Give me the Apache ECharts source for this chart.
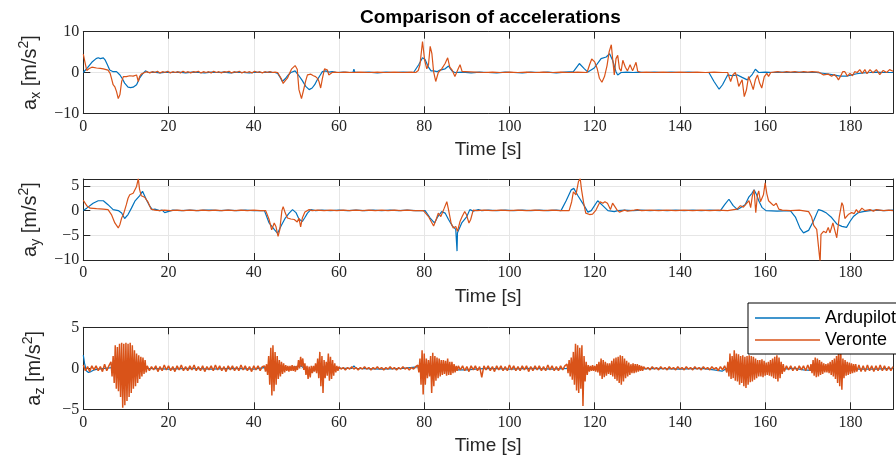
<!DOCTYPE html>
<html><head><meta charset="utf-8">
<script src="https://cdn.jsdelivr.net/npm/echarts@6/dist/echarts.min.js"></script>
<style>html,body{margin:0;padding:0;background:#fff}#c{width:896px;height:457px}</style>
</head><body><div id="c"></div><script>
// ---------- DATA ----------
const xTicks = [0, 20, 40, 60, 80, 100, 120, 140, 160, 180];
const seriesNames = ['Ardupilot', 'Veronte'];
const yLabelSubs = ['x', 'y', 'z'];

const axArdupilot = [[0,0],[0.4,0.3],[1,1.2],[2,2.5],[3,3.4],[3.5,3.6],[4,3.4],[4.7,3.6],[5.1,3.1],[5.6,2.0],[6.2,0.6],[7,0.2],[7.8,0.2],[8.6,-0.6],[9.2,-1.6],[9.7,-2.6],[10.5,-3.6],[11.1,-3.7],[11.7,-3.6],[12.5,-3.0],[13.2,-1.4],[14,-0.2],[14.6,0.4],[15.2,0],[16.5,0.1],[18,-0.1],[19.5,0.1],[21,0],[22.5,0.1],[24,-0.1],[25.5,0.1],[27,0],[28.5,-0.1],[30,0.1],[31.5,0],[33,0.1],[34.5,-0.1],[36,0.1],[37.5,0],[39,-0.1],[40.5,0.1],[42,0],[43.5,0.1],[45,0],[45.6,-0.2],[46.2,-1.2],[46.7,-2.2],[47.5,-1.4],[48.1,-0.6],[48.7,0],[49.7,0.4],[50.6,-0.8],[51.4,-2.0],[52.2,-3.4],[53,-4.2],[53.7,-3.8],[54.3,-3.0],[54.9,-1.8],[55.5,-0.8],[56.1,0.2],[56.9,0.4],[57.6,0.1],[58.4,0.2],[59.5,0],[61,0.1],[62.5,0],[63.3,0.1],[63.5,0.8],[63.7,0.1],[65,0],[67,0.1],[69,-0.1],[71,0.1],[73,0],[75,0.1],[77.5,0],[78.7,1.9],[79.6,3.6],[80.2,3.2],[81,1.3],[81.6,0.4],[82.2,0.4],[83,0.2],[83.7,0.6],[84.9,0.9],[85.7,1.6],[86.2,0.8],[86.6,0.3],[87.2,0],[89,0.1],[91,-0.1],[93,0.1],[95,0],[97,-0.1],[99,0.1],[101,0],[103,-0.1],[105,0.1],[107,0],[109,0.1],[111,-0.1],[113,0.1],[115,0.2],[116.4,2.2],[117.6,0.9],[118.4,0.1],[118.8,0],[119.9,1.1],[121.5,3.4],[122.7,3.8],[123.5,4.6],[124.2,3.0],[125,0.2],[125.4,-0.6],[126.2,0],[127.5,0.1],[129,0],[130.5,0.1],[132,0],[134,0.1],[136,0],[138,0.1],[140,0],[142,0.1],[144,0],[146.8,0],[148,-2.2],[149.2,-4.1],[150,-3.0],[151.2,-0.6],[152.3,-0.8],[153.5,-0.6],[154.6,-1.2],[155.8,-1.8],[156.9,-0.6],[157.7,0.8],[158.5,0],[160,0.1],[162,0],[164,0.1],[166,0],[168,0.1],[170,0],[172,0],[174.5,-0.3],[176,-0.6],[177.6,-0.9],[179.1,-0.9],[180.3,-0.6],[181.5,-0.3],[183,-0.1],[184.6,0],[186,0.1],[188,0],[190,0]];

const axVeronte = [[0,4.5],[0.4,2.5],[0.8,0.5],[1.4,1.0],[2,1.3],[3.1,1.1],[4,1.0],[4.7,0.9],[5.8,0.6],[6.3,-0.2],[6.6,-1.4],[7,-3.0],[7.4,-3.5],[7.8,-4.7],[8.2,-6.4],[8.6,-5.4],[9,-2.2],[9.4,-1.0],[10.1,-1.0],[10.9,-0.8],[11.7,-0.9],[12.5,-0.6],[12.9,-2.2],[13.2,-1.0],[13.6,-0.4],[14.4,0],[15,0.2],[15.6,-0.1],[16.2,0.2],[16.8,0],[17.4,0.3],[18,-0.1],[18.6,0.2],[19.2,0],[19.8,0.3],[20.4,-0.1],[21,0.2],[21.6,0],[22.2,0.2],[22.8,-0.1],[23.4,0.3],[24,0],[24.6,0.2],[25.2,-0.1],[25.8,0.2],[26.4,0.1],[27,0.3],[27.6,-0.1],[28.2,0.2],[28.8,0],[29.4,0.2],[30,-0.1],[30.6,0.3],[31.2,0],[31.8,0.2],[32.4,-0.1],[33,0.2],[33.6,0.1],[34.2,0.3],[34.8,-0.1],[35.4,0.2],[36,0],[36.6,0.3],[37.2,-0.1],[37.8,0.2],[38.4,0],[39,0.2],[39.6,-0.1],[40.2,0.3],[40.8,0],[41.4,0.2],[42,-0.1],[42.6,0.2],[43.2,0],[43.8,0.2],[44.4,0],[45,0.1],[45.6,0],[46,-0.4],[46.5,-1.6],[46.9,-2.7],[47.4,-2.0],[47.9,-1.4],[48.4,-0.2],[48.9,0.9],[49.7,1.7],[50.2,0.8],[50.6,-4.2],[51.2,-6.4],[51.8,-3.8],[52.2,-2.0],[52.6,-0.6],[53.4,-0.4],[54,-0.8],[54.5,-1.0],[55,-1.5],[55.3,-2.2],[55.7,-3.8],[56.1,-1.5],[56.6,0.9],[57.3,0.6],[57.6,-0.6],[58,-0.5],[58.4,0],[59,0.1],[60,0],[61.5,0.1],[63,0],[65,0.1],[67,0],[69,0.1],[71,0],[73,0.1],[75,0],[77,0.1],[78,0],[78.6,0.5],[79,1.9],[79.6,7.6],[80.1,3.0],[80.6,0.9],[81,1.9],[81.4,6.4],[81.8,4.6],[82.2,0.2],[82.7,-2.2],[83.3,0],[84.1,0.9],[84.9,2.2],[85.5,3.6],[86,1.3],[86.6,0.5],[87.2,-1.0],[88,1.0],[88.4,1.9],[88.9,0.2],[89.6,0.2],[90,0],[92,0.1],[94,0],[96,0.1],[98,0],[100,0.1],[102,0],[104,0.1],[106,0],[108,0.1],[110,0],[112,0.1],[114,0],[116,0.1],[118.2,0],[118.8,1.9],[119.3,3.3],[120,2.6],[120.6,0.9],[121.1,-1.4],[121.7,-2.4],[122.3,-1.0],[122.9,1.7],[123.4,5.1],[123.9,6.8],[124.2,3.5],[124.6,-0.6],[125,3.4],[125.4,4.2],[125.8,1.0],[126.2,0.3],[126.6,3.0],[127.2,1.3],[127.7,0.4],[128.3,1.9],[128.9,0.4],[129.3,0.6],[129.7,2.5],[130.1,0.3],[130.8,0],[132,0.1],[134,0],[136,0.1],[138,0],[140,0.1],[142,0],[144,0.1],[146,0],[148,0.1],[150,0],[151.2,0],[151.9,-2.2],[152.4,-0.6],[153,0],[153.4,-1.4],[153.8,-3.4],[154.6,-1.8],[155.1,-5.9],[155.6,-4.3],[156.1,-1.0],[156.7,-2.6],[157.2,-4.2],[157.7,-1.8],[158.2,-0.6],[158.7,-2.6],[159.2,-3.8],[159.8,-1.0],[160.4,-0.2],[160.8,-1.0],[161.3,0],[162,0.1],[163,0.2],[164,0],[165,0.2],[166,0.1],[167,0.2],[168,0],[169,0.2],[170,0.1],[171,0.2],[172.5,0.1],[173.7,-0.6],[174.8,-0.4],[175.6,-0.9],[176.2,-0.5],[176.8,-1.1],[177.2,-1.8],[177.7,-0.9],[178.2,0.2],[178.7,0.2],[179.3,-0.9],[179.9,-0.2],[180.5,-0.8],[181,0.2],[181.6,0],[182.2,0.7],[182.8,-0.2],[183.4,0.7],[183.9,-0.3],[184.6,0.7],[185.3,-0.1],[186.1,0.7],[186.9,-0.5],[187.7,0.5],[188.5,0],[189.2,0.7],[190,0.3]];

const ayArdupilot = [[0,0],[0.8,0.5],[2.3,1.5],[3.5,2.0],[4.7,2.0],[5.8,1.2],[7,0.2],[8.2,0],[9,-0.5],[9.7,-1.6],[10.5,-0.8],[11.3,0.5],[12.1,1.9],[13.2,3.0],[13.9,3.9],[14.8,2.2],[15.6,0.9],[16.2,0.2],[16.8,0.3],[17.9,0],[18.5,0.1],[19.1,-0.4],[19.3,0],[21,0.1],[23,0],[25,0.1],[27,0],[28.3,0.1],[28.5,0.4],[28.7,0],[30,0.1],[32,0],[34,0.1],[36,0],[38,0.1],[40,0],[42.5,0],[43.6,-2.5],[44.8,-3.8],[45.6,-4.6],[46.4,-3.1],[47.4,-1.5],[48.3,-0.5],[49.1,0.2],[49.9,-0.4],[50.6,-1.7],[51.4,-2.2],[52,-1.4],[52.6,-0.5],[53.4,0.2],[54.5,0],[56,0.1],[58,0],[60,0.1],[62,0],[64,0.1],[66,0],[68,0.1],[70,0],[72,0.1],[74,0],[76,0.1],[78,0],[80.2,0],[81.4,-1.5],[82.4,-2.5],[83.2,-1.2],[84.1,-0.2],[84.9,-0.5],[85.7,-1.8],[86.6,-3.1],[87.4,-3.8],[87.6,-4.2],[87.7,-8.2],[87.8,-4.5],[88.8,-2.5],[90,-1.2],[90.7,0.2],[91.5,-0.1],[92.7,0.2],[93.5,0],[95,0.1],[97,0],[99,0.1],[101,0],[103,0.1],[105,0],[107,0.1],[109,0],[111,0.1],[112.1,0],[113.3,2.0],[114.5,4.2],[115.1,4.5],[116,3.1],[117.6,0.9],[118.4,-0.3],[119.2,0],[120.7,2.0],[121.9,1.0],[123.1,0],[124.6,-0.2],[125.4,0],[127,0.1],[129,0],[131,0.1],[133,0],[135,0.1],[137,0],[139,0.1],[141,0],[143,0.1],[145,0],[147,0.1],[149.5,0],[150.5,1.2],[151.5,2.3],[152.5,1.0],[153.5,0.2],[154.2,0.6],[155.3,1.2],[156.2,2.8],[156.9,3.5],[157.4,4.2],[158,3.2],[158.5,2.0],[159.3,0.6],[160.2,0],[162.8,-0.1],[165.9,0],[167.1,-1.3],[168.2,-3.6],[169,-4.5],[170.2,-4.0],[171.4,-2.0],[172.5,0.2],[173.3,0],[174.4,-0.5],[175.6,-1.4],[176.8,-2.7],[178,-3.2],[179.1,-3.4],[179.9,-2.2],[180.7,-1.2],[181.9,-0.4],[183,-0.2],[184.6,0],[186,0.1],[188,0],[190,0.1]];

const ayVeronte = [[0,2.1],[0.8,1.0],[1.6,0.5],[3.1,0.4],[4.7,0.3],[5.8,0.2],[6.6,-0.8],[7.4,-2.5],[8.2,-3.5],[8.6,-2.8],[9,-1.5],[9.4,-0.8],[9.7,-0.4],[10.1,1.2],[10.5,2.5],[10.9,3.2],[11.3,2.8],[11.7,3.5],[12.1,3.1],[12.5,4.9],[12.9,6.5],[13.2,4.3],[13.6,3.0],[14.4,2.7],[15.2,1.7],[15.9,0.3],[16.8,0.1],[17.9,0],[19,0.1],[20.5,0],[22,0.1],[23.5,0],[25,0.1],[26.5,0],[28,0.1],[29.5,0],[31,0.1],[32.5,0],[34,0.1],[35.5,0],[37,0.1],[38.5,0],[40,0.1],[41.5,0],[42.8,0],[43.6,-1.8],[44.2,-3.9],[44.8,-2.5],[45.2,-3.2],[45.7,-5.2],[46.1,-3.9],[46.6,0],[46.9,0.8],[47.4,-0.5],[47.9,-1.5],[48.7,-1.7],[49.5,-1.8],[50.2,-2.3],[50.6,-1.5],[51,-3.3],[51.4,-1.5],[52,-0.3],[53,0.2],[53.7,0],[55,0.1],[56.5,0],[58,0.1],[59.5,0],[61,0.1],[62.5,0],[64,0.1],[65.5,0],[67,0.1],[68.5,0],[70,0.1],[71.5,0],[73,0.1],[74.5,0],[76,0.1],[77.5,0],[79.8,0],[81,-1.2],[82.2,-3.1],[82.8,-1.8],[83.3,-0.5],[83.9,-1.2],[84.7,0.5],[85.3,1.8],[85.7,0.2],[86.3,-2.5],[86.8,-3.5],[87.4,-3.2],[87.8,-4.2],[88.4,-2.2],[88.9,-1.2],[89.5,-0.2],[89.9,-0.8],[90.5,-2.5],[90.9,-1.8],[91.5,0.1],[92.3,0],[94,0.1],[96,0],[98,0.1],[100,0],[102,0.1],[104,0],[106,0.1],[108,0],[110,0.1],[112,0],[114,0],[114.6,1.8],[115,3.8],[115.6,3.2],[116.2,5.9],[116.6,6.5],[116.9,4.3],[117.4,1.6],[117.9,-0.5],[118.8,-0.8],[119.5,-0.7],[120.3,0.1],[120.9,1.2],[121.3,1.8],[121.9,1.5],[122.4,1.8],[123,1.5],[123.7,0.2],[124.2,1.5],[124.6,1.5],[125.2,0.2],[125.8,-0.3],[126.2,-0.4],[127,0.1],[127.7,-0.1],[129.3,0.1],[130,0.2],[131,0],[133,0.1],[135,0],[137,0.1],[139,0],[141,0.1],[143,0],[145,0.1],[147,0],[149,0.1],[151.2,0],[153.4,0.3],[154.2,1.0],[154.9,0.7],[155.7,1.5],[156.2,2.0],[156.6,0.6],[157,3.0],[157.4,4.2],[157.8,-0.4],[158.2,3.2],[158.5,4.0],[158.9,1.8],[159.3,1.5],[159.6,3.2],[160,5.6],[160.4,3.4],[160.8,2.0],[161.4,1.5],[162,1.0],[162.6,1.5],[163.2,0.3],[164,0.1],[166,0],[168,0.1],[170.2,-0.2],[170.9,-1.3],[171.4,-3.0],[172.1,-3.8],[172.5,-3.4],[172.9,-10.5],[173.1,-4.8],[173.7,-4.2],[174.3,-4.5],[174.8,-3.4],[175.2,-4.5],[175.9,-2.5],[176.5,-4.5],[176.8,-5.5],[177.4,-1.2],[178,1.6],[178.3,1.0],[178.7,-1.6],[179.5,-0.8],[180.3,-0.4],[180.9,-0.6],[181.4,0.2],[181.9,-0.4],[182.7,0.5],[183.4,0],[184.6,0.2],[185.4,-0.1],[186.1,0.2],[187.7,0],[189,0.1],[190,0]];

const azArdupilot = [[0,1.6],[0.3,0.6],[0.7,-0.3],[1.2,-0.5],[1.8,-0.4],[2.5,-0.2],[3.5,-0.1],[5,0],[7,0.1],[10,-0.2],[13,0.1],[15,0],[20,-0.1],[25,0],[30,-0.1],[35,0],[40,-0.1],[44,0.2],[46,-0.2],[48,0],[51,0.3],[53.3,-0.5],[54.5,-0.1],[56,0.2],[58,-0.1],[60,0],[63,0],[63.5,0.3],[64,0],[70,-0.1],[75,0],[79,0.2],[81,-0.2],[84,0.1],[87,-0.2],[90,-0.2],[92,-0.1],[95,0],[100,-0.1],[105,0],[110,-0.1],[114,0],[116,0.3],[118,-0.2],[121,0],[126,0.1],[130,-0.1],[134,0],[140,-0.1],[145,0],[148,-0.2],[149.9,-0.35],[151,0],[155,-0.2],[160,0.1],[164,-0.1],[167,0],[169,-0.2],[171,-0.25],[173,0],[178,0.1],[182,-0.1],[186,-0.1],[190,0]];

// Veronte a_z: segments of samples [startTime, sampleStep, values]
const azVeronteSegments = [
  [0, 0.5, [0.4,-0.3,0.2,-0.4,0.3,-0.2,0.3,-0.3,0.2,-0.4,0.5,-0.3,0.3]],
  [6.5, 0.25, [0.8,-1.0,1.5,-1.8,2.8,-2.5,2.6,-2.8,3.0,-3.5,3.1,-4.8,3.0,-4.5,3.1,-4.0,3.0,-3.5,3.1,-3.0,2.8,-2.5,2.2,-2.2,1.8,-1.8,1.6,-1.3,1.4,-1.0,1.3,-0.7,1.0,-0.5,0.3]],
  [15.5, 0.5, [-0.3,0.2,-0.2,0.3,-0.4,0.2,-0.3,0.4,-0.2,0.3,-0.3,0.2,-0.4,0.3,-0.2,0.4,-0.3,0.2,-0.3,0.3,-0.2,0.4,-0.3,0.2,-0.3,0.3,-0.4,0.2,-0.2,0.3,-0.3,0.4,-0.2,0.3,-0.3,0.2,-0.4,0.3,-0.2,0.3,-0.3,0.2,-0.3,0.4,-0.2,0.3,-0.3,0.2,-0.4,0.3,-0.2,0.3,-0.3,0.2]],
  [42.5, 0.25, [0.3,-0.4,0.5,-0.8,1.5,-2.0,2.5,-3.3,2.8,-2.8,2.0,-2.0,1.5,-1.3,1.0,-1.0,0.8,-0.7,0.6,-0.5,0.4,-0.3]],
  [48, 0.25, [0.3,-0.4,0.3,-0.3,0.4,-0.3,0.3,-0.4,0.3,-0.2,1.0,0.0,1.4,0.2,1.2,-0.2,0.6,-0.8,0.3,-1.3,0.2,-1.1,0.3,-0.6,0.3,-0.4,0.6,-0.6,1.2,-1.2,2.0,-2.2,1.5,-3.0,1.0,-1.2,0.8,-0.9,1.8,-1.5,1.4,-1.3,1.0,-0.9,0.6,-0.5,0.3,-0.3]],
  [60, 0.5, [0.2,-0.1,0.1,-0.2,0.1,-0.1,0.2,-0.1,0.1,-0.2,0.1,-0.1,0.2,-0.1,0.1,-0.2,0.1,-0.1,0.2,-0.1,0.1,-0.2,0.1,-0.1,0.2,-0.1,0.1,-0.2,0.1,-0.1,0.2,-0.1,0.1,-0.2,0.1,-0.1,0.2]],
  [78.5, 0.25, [0.4,-0.5,1.2,-2.0,2.2,-3.2,1.8,-2.0,1.2,-1.2,1.0,-1.0,1.5,-3.0,1.9,-2.2,1.5,-1.5,1.3,-1.2,1.2,-1.0,1.0,-0.8,1.0,-0.7,0.9,-0.9,1.2,-0.8,0.8,-0.8,0.8,-0.6,0.5,-0.5,0.3,-0.3]],
  [88, 0.5, [0.3,-0.2,0.3,-0.3,0.2,-0.4,0.3,-0.2,0.3,-0.3,0.2,-1.1,0.3,-0.2,0.3,-0.3,0.2,-0.4,0.3,-0.2,0.3,-0.3,0.2,-0.3,0.4,-0.2,0.3,-0.3,0.2,-0.3,0.3,-0.2,0.3,-0.4,0.2,-0.3,0.3,-0.2,0.3,-0.3,0.2,-0.3,0.4,-0.2,0.3,-0.3,0.2,-0.3,0.3,-0.2,0.3]],
  [113.5, 0.25, [0.5,-0.6,1.0,-1.0,1.3,-1.4,2.0,-2.0, 3.0,-2.7,2.8,-3.0,2.5,-2.5,2.8,-4.6, 1.5,-1.6,0.8,-0.8,0.4,-0.4,0.3,-0.3, 0.4,-0.3,0.3,-0.4,0.5,-0.5,0.8,-0.9, 1.2,-1.3,1.0,-1.1,0.8,-0.9,0.6,-0.7, 0.6,-0.8,0.9,-1.0,1.2,-1.3,1.3,-1.5, 1.4,-1.8,1.6,-2.0,1.5,-1.6,1.2,-1.2, 0.9,-1.0,0.7,-0.8,0.5,-0.6,0.6,-0.6, 0.5,-0.5,0.5,-0.4,0.4,-0.3,0.3,-0.3]],
  [131.5, 0.5, [0.2,-0.1,0.1,-0.2,0.2,-0.1,0.1,-0.2,0.2,-0.1, 0.1,-0.2,0.2,-0.1,0.1,-0.2,0.2,-0.1,0.1,-0.2, 0.2,-0.1,0.1,-0.2,0.2,-0.1,0.1,-0.2,0.2,-0.1, 0.1,-0.2,0.2,-0.1,0.1,-0.3,0.2,-0.2,0.3]],
  [150.75, 0.25, [0.4,-0.5,0.8,-1.0,1.8,-1.3,1.5,-1.2, 2.2,-1.5,1.8,-1.6,1.7,-2.0,1.5,-1.8, 1.6,-2.2,1.4,-2.4,1.5,-2.0,1.6,-1.7, 1.5,-1.6,1.4,-1.4,1.2,-1.2,1.0,-1.0, 1.0,-1.0,1.1,-1.1,0.9,-0.9,0.7,-0.8, 0.8,-0.9,1.0,-1.0,1.2,-1.2,1.4,-1.3, 1.6,-1.6,1.3,-1.2,0.8,-0.7,0.5,-0.4]],
  [165, 0.5, [0.3,-0.2,0.3,-0.3,0.2,-0.3,0.3,-0.2,0.3,-0.3,0.4,-0.3]],
  [170.75, 0.25, [0.5,-0.6,1.0,-0.9,1.3,-1.1,1.2,-1.0, 1.0,-0.8,0.8,-0.7,0.6,-0.5,0.5,-0.5, 0.6,-0.6,0.8,-0.8,1.0,-1.0,1.2,-1.3, 1.5,-1.8,2.4,-2.2,1.8,-2.6,1.2,-1.2, 1.0,-0.9,0.8,-0.8,0.7,-0.7,0.6,-0.6, 0.5,-0.5,0.5,-0.4]],
  [182, 0.5, [0.4,-0.4,0.3,-0.4,0.4,-0.3,0.3,-0.4,0.3,-0.3,0.4,-0.3,0.3,-0.3,0.2,-0.3,0.2]]
];

// ---------- BUILD ----------
function expandSegments(segs) {
  const out = [];
  segs.forEach(([start, step, vals]) => vals.forEach((v, i) => out.push([+(start + i * step).toFixed(3), v])));
  return out;
}
const azVeronte = expandSegments(azVeronteSegments);

const dataByPlot = [[axArdupilot, axVeronte], [ayArdupilot, ayVeronte], [azArdupilot, azVeronte]];
const lineWidths = [[1.2, 1.2], [1.2, 1.2], [1.2, 1.5]];
const yRanges = [
  { min: -10, max: 10, interval: 10 },
  { min: -10, max: 6.4, interval: 5 },
  { min: -5, max: 5, interval: 5 }
];
const grids = [
  { left: 83.3, top: 31.7, width: 813.2, height: 81.6 },
  { left: 83.3, top: 179, width: 813.2, height: 81 },
  { left: 83.3, top: 327.3, width: 813.2, height: 82 }
];
const colors = ['#0072BD', '#D95319'];
const AX = '#262626';
const GRID = '#e6e6e6';
const SERIF = '"Liberation Serif", "DejaVu Serif", serif';
const SANS = '"Liberation Sans", Arial, Helvetica, sans-serif';
const fmt = v => (v < 0 ? '\u2212' + Math.abs(v) : String(v));

const xAxes = [], yAxes = [], series = [];
grids.forEach((g, i) => {
  const axLine = { show: true, onZero: false, lineStyle: { color: AX, width: 1 } };
  const tick = { show: true, inside: true, length: 7, lineStyle: { color: AX, width: 1 } };
  xAxes.push({
    gridIndex: i, type: 'value', min: 0, max: 190, interval: 20, position: 'bottom',
    axisLine: axLine, axisTick: tick,
    axisLabel: { margin: 5, color: AX, fontFamily: SERIF, fontSize: 16,
      formatter: v => (xTicks.indexOf(v) >= 0 ? fmt(v) : '') },
    splitLine: { show: true, lineStyle: { color: GRID, width: 1 } },
    name: 'Time [s]', nameLocation: 'middle', nameGap: 27,
    nameTextStyle: { fontFamily: SANS, fontSize: 19, color: AX }
  });
  xAxes.push({
    gridIndex: i, type: 'value', min: 0, max: 190, interval: 20, position: 'top',
    axisLine: axLine, axisTick: tick, axisLabel: { show: false }, splitLine: { show: false }
  });
  const r = yRanges[i];
  yAxes.push({
    gridIndex: i, type: 'value', min: r.min, max: r.max, interval: r.interval, position: 'left',
    axisLine: axLine, axisTick: tick,
    axisLabel: { margin: 4, color: AX, fontFamily: SERIF, fontSize: 16,
      formatter: v => (Math.abs(v % r.interval) < 1e-9 ? fmt(v) : '') },
    splitLine: { show: true, lineStyle: { color: GRID, width: 1 } },
    name: '{n|a}{s|' + yLabelSubs[i] + '}{n| [m/s}{p|2}{n|]}',
    nameLocation: 'middle', nameRotate: 90, nameGap: 36,
    nameTextStyle: {
      color: AX, fontFamily: SANS, fontSize: 20,
      rich: {
        n: { color: AX, fontFamily: SANS, fontSize: 20, lineHeight: 26 },
        s: { color: AX, fontFamily: SANS, fontSize: 14, lineHeight: 14, verticalAlign: 'bottom' },
        p: { color: AX, fontFamily: SANS, fontSize: 14, lineHeight: 14, verticalAlign: 'top' }
      }
    }
  });
  yAxes.push({
    gridIndex: i, type: 'value', min: r.min, max: r.max, interval: r.interval, position: 'right',
    axisLine: axLine, axisTick: tick, axisLabel: { show: false }, splitLine: { show: false }
  });
  dataByPlot[i].forEach((d, k) => {
    series.push({
      name: seriesNames[k], type: 'line', xAxisIndex: 2 * i, yAxisIndex: 2 * i,
      data: d, showSymbol: false, symbol: 'none', clip: true,
      lineStyle: { color: colors[k], width: lineWidths[i][k] }, itemStyle: { color: colors[k] },
      z: 2 + k
    });
  });
});

const chart = echarts.init(document.getElementById('c'), null, { renderer: 'canvas' });
chart.setOption({
  animation: false,
  backgroundColor: '#fff',
  title: {
    text: 'Comparison of accelerations', left: 360, top: 8, padding: 0,
    textStyle: { fontFamily: SANS, fontWeight: 'bold', fontSize: 19, color: '#000' }
  },
  legend: {
    data: seriesNames.map(n => ({ name: n, icon: 'rect' })),
    orient: 'vertical', left: 748, top: 303,
    padding: [6, 10, 5, 7], itemGap: 4, itemWidth: 65, itemHeight: 1.3,
    backgroundColor: '#fff', borderColor: '#000', borderWidth: 1, borderRadius: 0,
    selectedMode: false,
    textStyle: { fontFamily: SANS, fontSize: 18, color: '#000' }
  },
  grid: grids,
  xAxis: xAxes,
  yAxis: yAxes,
  series: series
});
</script></body></html>
